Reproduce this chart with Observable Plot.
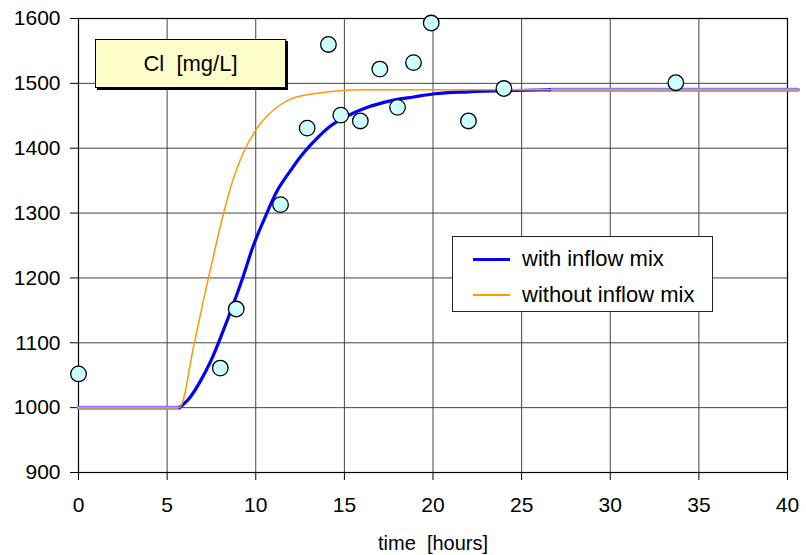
<!DOCTYPE html>
<html>
<head>
<meta charset="utf-8">
<script src="https://cdn.jsdelivr.net/npm/d3@7"></script>
<script src="https://cdn.jsdelivr.net/npm/@observablehq/plot@0.6"></script>
<style>
  html, body { margin: 0; padding: 0; background: #fff; }
  #wrap { position: relative; width: 806px; height: 555px; font-family: "Liberation Sans", Arial, sans-serif; }
  #wrap svg { position: absolute; left: 0; top: 0; }
  .titlebox { position: absolute; left: 95px; top: 39px; width: 189px; height: 47px; background: #ffffcc; border: 1px solid #000; box-shadow: 2px 2px 0 #000; font-size: 22px; display: flex; align-items: center; justify-content: center; white-space: pre; color: #000; }
  .legend { position: absolute; left: 452px; top: 236px; width: 259px; height: 74px; background: #fff; border: 1px solid #222; color: #000; }
  .legend .row { position: absolute; left: 0; width: 100%; height: 30px; }
  .legend .sw { position: absolute; left: 20px; width: 37px; }
  .legend .lbl { position: absolute; left: 69px; font-size: 22px; line-height: 30px; top: 0; white-space: nowrap; }
</style>
</head>
<body>
<div id="wrap"></div>
<script>
// ---- data ----
const xTicks = [0, 5, 10, 15, 20, 25, 30, 35, 40];
const yTicks = [900, 1000, 1100, 1200, 1300, 1400, 1500, 1600];

// with inflow mix (blue)
const blueT = [0, 5.7, 6.3, 6.9, 7.5, 8.1, 8.7, 9.3, 9.8, 10.5, 11.2, 12.0, 12.5, 13.3, 14.2, 15.2, 16.3, 17.6, 18.9, 20.1, 22.0, 24.6, 26.6, 40.6];
const blueV = [1000, 1000, 1016, 1042, 1074, 1114, 1157, 1203, 1245, 1292, 1334, 1367, 1386, 1411, 1434, 1450, 1463, 1473, 1479, 1484, 1487, 1489, 1490, 1490];

// without inflow mix (orange)
const orangeT = [0, 5.7, 6.5, 7.1, 7.5, 7.9, 8.3, 8.7, 9.3, 10.1, 11.0, 12.0, 13.3, 14.4, 16.3, 40.6];
const orangeV = [1000, 1000, 1095, 1172, 1220, 1268, 1312, 1350, 1393, 1432, 1459, 1476, 1484, 1488, 1490, 1490];

// measured Cl
const obsT = [0, 8, 8.9, 11.4, 12.9, 14.1, 14.8, 15.9, 17, 18, 18.9, 19.9, 22, 24, 33.7];
const obsV = [1052, 1061, 1152, 1313, 1431, 1560, 1451, 1442, 1522, 1463, 1532, 1593, 1442, 1492, 1501];

const titleText = "Cl  [mg/L]";
const xLabel = "time \u00a0[hours]";
const seriesNames = ["with inflow mix", "without inflow mix"];
const seriesColors = ["#0000ff", "#ff9900"];

// ---- build ----
const blue = blueT.map((t, i) => ({t, v: blueV[i]}));
const blueCurve = blue.filter(d => d.t >= 5.7 && d.t <= 26.6);
const blueFlatA = blue.filter(d => d.t <= 5.7);
const blueFlatB = blue.filter(d => d.t >= 26.6);
const orange = orangeT.map((t, i) => ({t, v: orangeV[i]}));
const obs = obsT.map((t, i) => ({t, v: obsV[i]}));

const chart = Plot.plot({
  width: 806,
  height: 555,
  marginLeft: 78,
  marginRight: 19,
  marginTop: 18,
  marginBottom: 83,
  x: {domain: [0, 40]},
  y: {domain: [900, 1600]},
  style: {fontFamily: "'Liberation Sans', Arial, sans-serif", fontSize: "21px", color: "#000", background: "#fff"},
  marks: [
    Plot.gridX(xTicks, {stroke: "#444", strokeOpacity: 1, strokeWidth: 1}),
    Plot.gridY(yTicks, {stroke: "#444", strokeOpacity: 1, strokeWidth: 1}),
    Plot.frame({stroke: "#000", strokeWidth: 1.2}),
    Plot.axisX(xTicks, {tickSize: 8, tickPadding: 17, label: null, fontSize: 21, stroke: "#000", tickFormat: d => String(d)}),
    Plot.axisY(yTicks, {tickSize: 8, tickPadding: 10, label: null, fontSize: 21, stroke: "#000", tickFormat: d => String(d)}),
    Plot.line(blueFlatA, {x: "t", y: "v", stroke: "#8080ff", strokeWidth: 4}),
    Plot.line(blueFlatB, {x: "t", y: "v", stroke: "#8080ff", strokeWidth: 4}),
    Plot.line(blueCurve, {x: "t", y: "v", stroke: seriesColors[0], strokeWidth: 3.2, curve: "monotone-x"}),
    Plot.line(orange, {x: "t", y: "v", stroke: seriesColors[1], strokeWidth: 1.5, curve: "monotone-x"}),
    Plot.dot(obs, {x: "t", y: "v", r: 7.8, fill: "#ccffff", stroke: "#000", strokeWidth: 1.3}),
    Plot.text([xLabel], {frameAnchor: "bottom", dy: 71, lineAnchor: "middle", fontSize: 20, fill: "#000"})
  ]
});

const wrap = document.getElementById("wrap");
wrap.appendChild(chart);

const tb = document.createElement("div");
tb.className = "titlebox";
tb.textContent = titleText;
wrap.appendChild(tb);

const lg = document.createElement("div");
lg.className = "legend";
seriesNames.forEach((name, i) => {
  const row = document.createElement("div");
  row.className = "row";
  row.style.top = (i === 0 ? 7 : 43) + "px";
  const sw = document.createElement("div");
  sw.className = "sw";
  const h = i === 0 ? 3 : 1.5;
  sw.style.height = h + "px";
  sw.style.top = (15 - h / 2) + "px";
  sw.style.background = seriesColors[i];
  const lbl = document.createElement("div");
  lbl.className = "lbl";
  lbl.textContent = name;
  row.appendChild(sw);
  row.appendChild(lbl);
  lg.appendChild(row);
});
wrap.appendChild(lg);
</script>
</body>
</html>
